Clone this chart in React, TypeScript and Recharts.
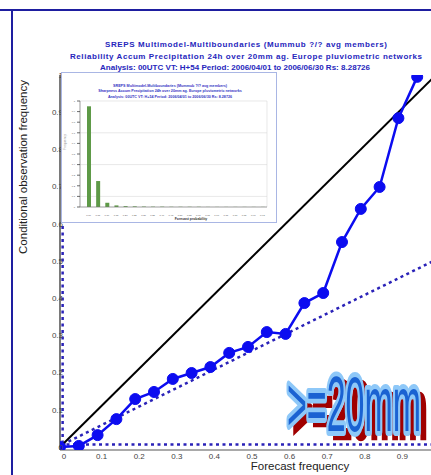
import {
  Bar,
  BarChart,
  CartesianGrid,
  ComposedChart,
  Line,
  ReferenceLine,
  XAxis,
  YAxis
} from "recharts";

// reliability curve: forecast probability bins vs observed frequency
const forecastFreq = [
  0, 0.05, 0.1, 0.15, 0.2, 0.25, 0.3, 0.35, 0.4, 0.45, 0.5, 0.55, 0.6, 0.65, 0.7, 0.75, 0.8,
  0.85, 0.9, 0.95
];
const observedFreq = [
  0, 0.003, 0.032, 0.075, 0.129, 0.148, 0.183, 0.199, 0.215, 0.253, 0.269, 0.309, 0.304,
  0.387, 0.414, 0.551, 0.64, 0.699, 0.884, 0.995
];
const climatology = 0.007;
const xTicks = [0, 0.1, 0.2, 0.3, 0.4, 0.5, 0.6, 0.7, 0.8, 0.9];
const yTicks = [0, 0.1, 0.2, 0.3, 0.4, 0.5, 0.6, 0.7, 0.8, 0.9, 1];

// sharpness histogram (inset)
const probBins = [
  "0.00", "0.05", "0.10", "0.15", "0.20", "0.25", "0.30", "0.35", "0.40", "0.45", "0.50",
  "0.55", "0.60", "0.65", "0.70", "0.75", "0.80", "0.85", "0.90", "0.95"
];
const binFreq = [
  0.95, 0.245, 0.04, 0.015, 0.008, 0.006, 0.004, 0.003, 0.003, 0.002, 0.002, 0.002, 0.002,
  0.001, 0.001, 0.001, 0.001, 0.001, 0.001, 0.001
];
const binTicks = [0, 0.1, 0.2, 0.3, 0.4, 0.5, 0.6, 0.7, 0.8, 0.9, 1];

const titleLines = [
  "SREPS Multimodel-Multiboundaries   (Mummub ?/? avg members)",
  "Reliability  Accum Precipitation 24h over 20mm ag. Europe pluviometric networks",
  "Analysis: 00UTC  VT: H+54   Period: 2006/04/01 to 2006/06/30   Rs: 8.28726"
];
const titleWidths = [282, 352, 270];
const insetTitleLines = [
  "SREPS Multimodel-Multiboundaries   (Mummub ?/? avg members)",
  "Sharpness  Accum Precipitation 24h over 20mm ag. Europe pluviometric networks",
  "Analysis: 00UTC  VT: H+54   Period: 2006/04/01 to 2006/06/30   Rs: 8.28726"
];
const threshold = ">=20mm";

const reliability = forecastFreq.map((p, i) => ({ p, obs: observedFreq[i] }));
const sharpness = probBins.map((bin, i) => ({ bin, freq: binFreq[i] }));

const BLUE = "#0c0cf0";
const DOTTED = "#2a22b8";
const FONT = "'Liberation Sans', Arial, sans-serif";

function SharpnessInset() {
  return (
    <div
      style={{
        position: "absolute",
        left: 61,
        top: 72,
        width: 214,
        height: 149,
        border: "1px solid #a9b6e4",
        background: "#fff"
      }}
    >
      <BarChart
        width={214}
        height={149}
        data={sharpness}
        margin={{ top: 28, right: 9, bottom: 7, left: 8 }}
      >
        <CartesianGrid
          stroke="#d8d8d8"
          strokeWidth={0.6}
          verticalCoordinatesGenerator={({ offset }: any) => [offset.left, offset.left + offset.width]}
        />
        <XAxis
          dataKey="bin"
          height={8}
          interval={0}
          tickLine={false}
          axisLine={{ stroke: "#777", strokeWidth: 0.6 }}
          tick={{ fontSize: 2.4, fill: "#555" }}
          tickMargin={1}
          padding={{ left: 4, right: 0 }}
        />
        <YAxis
          domain={[0, 1]}
          ticks={binTicks}
          width={10}
          tickSize={3}
          tickLine={{ stroke: "#444", strokeWidth: 0.8 }}
          axisLine={{ stroke: "#777", strokeWidth: 0.6 }}
          tick={{ fontSize: 2.4, fill: "#555" }}
        />
        <Bar dataKey="freq" fill="#5e9a47" barSize={4} isAnimationActive={false} />
      </BarChart>
      <svg
        width={214}
        height={149}
        style={{ position: "absolute", left: 0, top: 0, pointerEvents: "none" }}
        fontFamily={FONT}
      >
        {insetTitleLines.map((t, i) => (
          <text
            key={i}
            x={108}
            y={14 + i * 5.4}
            textAnchor="middle"
            fontSize={3.7}
            fontWeight="bold"
            fill="#3434c4"
          >
            {t}
          </text>
        ))}
        <text
          transform="translate(4,69) rotate(-90)"
          textAnchor="middle"
          fontSize={3.4}
          fill="#a0a0a0"
        >
          Frequency
        </text>
        <text x={129} y={147} textAnchor="middle" fontSize={3.4} fontWeight="bold" fill="#333">
          Forecast probability
        </text>
      </svg>
    </div>
  );
}

export default function App() {
  return (
    <div
      style={{
        position: "fixed",
        left: 0,
        top: 0,
        width: 431,
        height: 475,
        overflow: "hidden",
        background: "#fff",
        fontFamily: FONT
      }}
    >
      <ComposedChart
        width={440}
        height={475}
        data={reliability}
        margin={{ top: 75, right: 4, bottom: 5, left: 12 }}
      >
        <XAxis
          type="number"
          dataKey="p"
          domain={[0, 1]}
          ticks={xTicks}
          allowDataOverflow
          height={20}
          tickSize={0}
          tickMargin={3}
          tickLine={false}
          axisLine={{ stroke: "#555", strokeWidth: 1 }}
          tick={{ fontSize: 8, fill: "#444", dx: 4 }}
        />
        <YAxis
          type="number"
          domain={[-0.008, 1]}
          ticks={yTicks}
          allowDataOverflow
          width={48}
          tickSize={0}
          tickMargin={0}
          tickLine={false}
          axisLine={{ stroke: "#222", strokeWidth: 1.2 }}
          tick={{ fontSize: 8, fill: "#444", dx: 3 }}
        />

        {/* climatology and no-skill references */}
        <ReferenceLine
          x={climatology}
          stroke={DOTTED}
          strokeWidth={2.5}
          strokeDasharray="3 3.5"
        />
        <ReferenceLine
          y={climatology}
          stroke={DOTTED}
          strokeWidth={2.5}
          strokeDasharray="3 3.5"
        />
        <ReferenceLine
          segment={[
            { x: climatology, y: climatology },
            { x: 1, y: (1 + climatology) / 2 }
          ]}
          stroke={DOTTED}
          strokeWidth={2.5}
          strokeDasharray="3 3.5"
        />
        {/* perfect reliability */}
        <ReferenceLine
          segment={[
            { x: 0, y: 0 },
            { x: 1, y: 1 }
          ]}
          stroke="#000"
          strokeWidth={2}
        />

        <Line
          type="linear"
          dataKey="obs"
          stroke={BLUE}
          strokeWidth={2.5}
          dot={{ r: 5.5, fill: BLUE, stroke: BLUE, strokeWidth: 1 }}
          isAnimationActive={false}
        />
      </ComposedChart>

      <svg
        width={431}
        height={475}
        style={{ position: "absolute", left: 0, top: 0, pointerEvents: "none" }}
        fontFamily={FONT}
      >
        {/* slide frame */}
        <line x1={0} y1={10} x2={431} y2={10} stroke="#1e1ea0" strokeWidth={2} />
        <line x1={12} y1={10} x2={12} y2={475} stroke="#1e1ea0" strokeWidth={2} />

        {titleLines.map((t, i) => (
          <text
            key={i}
            x={i === 2 ? 235 : 246}
            y={47 + i * 11.5}
            textAnchor="middle"
            fontSize={8}
            fontWeight="bold"
            fill="#2626bc"
            textLength={titleWidths[i]}
            lengthAdjust="spacing"
          >
            {t}
          </text>
        ))}

        <text
          transform="translate(27,167) rotate(-90)"
          textAnchor="middle"
          fontSize={11.5}
          fill="#222"
        >
          Conditional observation frequency
        </text>
        <text x={300} y={470} textAnchor="middle" fontSize={11.5} fill="#222">
          Forecast frequency
        </text>

        {/* threshold badge with drop shadow */}
        <g transform="translate(287,431) scale(1,1.63)" fontSize={48}>
          <text
            x={6}
            y={3.6}
            fill="#a00000"
            stroke="#a00000"
            strokeWidth={4}
            textLength={134}
            lengthAdjust="spacingAndGlyphs"
          >
            {threshold}
          </text>
          <text
            x={0}
            y={0}
            fill="#1a62d2"
            stroke="#8ec8f8"
            strokeWidth={6}
            strokeLinejoin="round"
            paintOrder="stroke"
            textLength={134}
            lengthAdjust="spacingAndGlyphs"
          >
            {threshold}
          </text>
        </g>
      </svg>

      <SharpnessInset />
    </div>
  );
}
